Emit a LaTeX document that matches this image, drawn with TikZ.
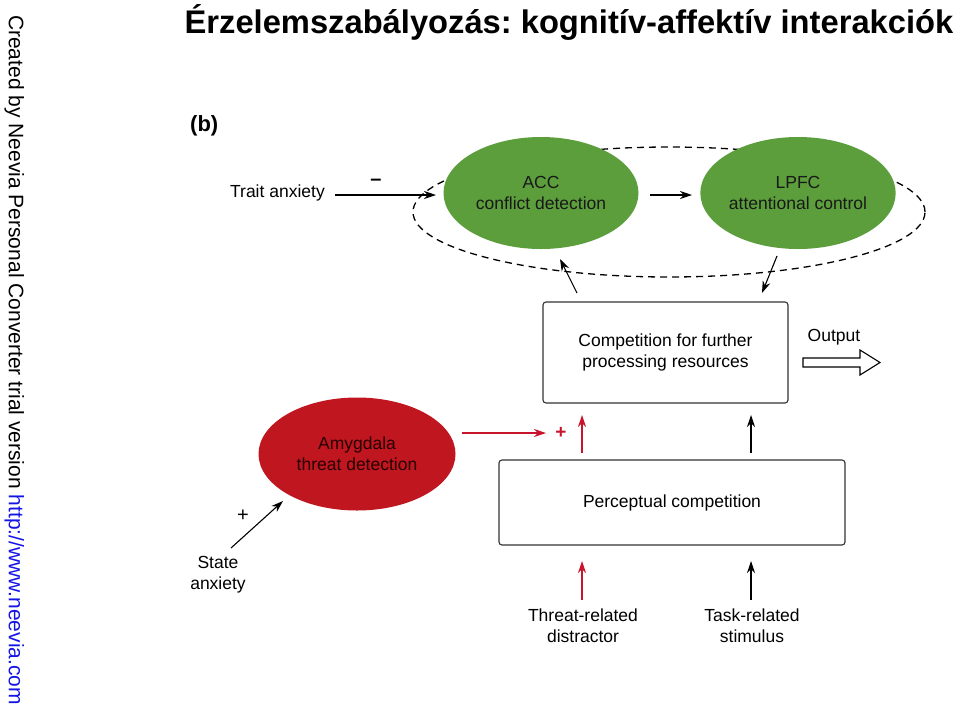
\documentclass[tikz,border=0pt]{standalone}
\usepackage{fontspec}
\setmainfont{Liberation Sans}
\frenchspacing
\usetikzlibrary{shapes.geometric,arrows.meta}
\definecolor{accgreen}{RGB}{92,158,60}
\definecolor{amyred}{RGB}{192,22,32}
\definecolor{arrred}{RGB}{200,20,45}
\definecolor{linkblue}{RGB}{20,20,230}
\tikzset{
  lbl/.style={font=\fontsize{17.5}{21}\selectfont, align=center, inner sep=0pt},
  region/.style={ellipse, minimum width=195pt, minimum height=112pt, inner sep=0pt, align=center, font=\fontsize{17.5}{21}\selectfont},
  stagebox/.style={draw=black!80, line width=1.1pt, rounded corners=3pt, inner sep=0pt, align=center, font=\fontsize{17.5}{21}\selectfont},
  arr/.style={line width=1.1pt, -{Stealth[length=12pt,width=8pt]}},
  redarr/.style={arr, draw=arrred},
}
\begin{document}
\begin{tikzpicture}[x=1pt,y=-1pt]
\useasboundingbox (0,0) rectangle (960,713);
\fill[white] (0,0) rectangle (960,713);
% title
\node[anchor=base, inner sep=0pt, font=\bfseries\fontsize{32.7}{36}\selectfont] (title) at (569,33) {Érzelemszabályozás: kognitív-affektív interakciók};
% side text
\node[rotate=-90, anchor=base, inner sep=0pt, font=\fontsize{21}{25}\selectfont] (side) at (9,360) {Created by Neevia Personal Converter trial version \textcolor{linkblue}{http://www.neevia.com}};
% (b)
\node[anchor=base west, inner sep=0pt, font=\bfseries\fontsize{22}{26}\selectfont] (b) at (190,131) {(b)};
% dashed control ellipse
\node[ellipse, draw, dashed, dash pattern=on 7pt off 5pt, line width=1.3pt, minimum width=512pt, minimum height=130pt, inner sep=0pt] (ctrl) at (669,212) {};
% ACC and LPFC
\node[region, fill=accgreen, text=black!90] (acc) at (541,193) {ACC\\conflict detection};
\node[region, fill=accgreen, text=black!90] (lpfc) at (798,193) {LPFC\\attentional control};
% Amygdala
\node[region, fill=amyred, text=black!85!red, minimum width=197pt, minimum height=113pt] (amy) at (357,454) {Amygdala\\threat detection};
% boxes
\node[stagebox, minimum width=245pt, minimum height=101pt] (comp) at (665.5,352.5) {Competition for further\\processing resources};
\node[stagebox, minimum width=346pt, minimum height=85pt] (perc) at (672,502.5) {Perceptual competition};
% labels
\node[lbl, anchor=east] (trait) at (325,193) {Trait anxiety};
\node[lbl] (minus) at (376,182) {\textbf{\fontsize{20}{22}\selectfont –}};
\node[lbl] (state) at (218,575) {State\\anxiety};
\node[lbl] (splus) at (243,516) {\fontsize{20}{22}\selectfont +};
\node[lbl] (output) at (834,337) {Output};
\node[lbl, text=arrred] (rplus) at (561,433) {\textbf{\fontsize{19}{22}\selectfont +}};
\node[lbl] (threat) at (583,626) {Threat-related\\distractor};
\node[lbl] (task) at (752,626) {Task-related\\stimulus};
% coordinates for arrow ends
\coordinate (traitstart) at (335,195);
\coordinate (traitend) at (436,195);
\coordinate (accr) at (650,195);
\coordinate (lpfcl) at (692,195);
\coordinate (accin) at (560,259);
\coordinate (accout) at (577,293);
\coordinate (lpfcout) at (777,256);
\coordinate (compin) at (762,293);
\coordinate (amyout) at (462,433);
\coordinate (amyend) at (546,433);
\coordinate (stail) at (231,548);
\coordinate (shead) at (283,501);
\coordinate (thtail) at (582,600);
\coordinate (thhead) at (582,561);
\coordinate (tktail) at (751,600);
\coordinate (tkhead) at (751,561);
\coordinate (pl) at (582,453);
\coordinate (cl) at (582,415);
\coordinate (pr) at (751,453);
\coordinate (cr) at (751,415);
% arrows
\draw[arr] (traitstart) -- (traitend);
\draw[arr] (accr) -- (lpfcl);
\draw[arr] (accout) -- (accin);
\draw[arr] (lpfcout) -- (compin);
\draw[redarr] (amyout) -- (amyend);
\draw[redarr] (pl) -- (cl);
\draw[arr] (pr) -- (cr);
\draw[arr] (stail) -- (shead);
\draw[redarr] (thtail) -- (thhead);
\draw[arr] (tktail) -- (tkhead);
% output hollow arrow
\draw[line width=1.1pt, fill=white, line join=miter] (803,358) -- (860,358) -- (860,350) -- (880,362.5) -- (860,375) -- (860,367) -- (803,367) -- cycle;
\end{tikzpicture}
\end{document}
